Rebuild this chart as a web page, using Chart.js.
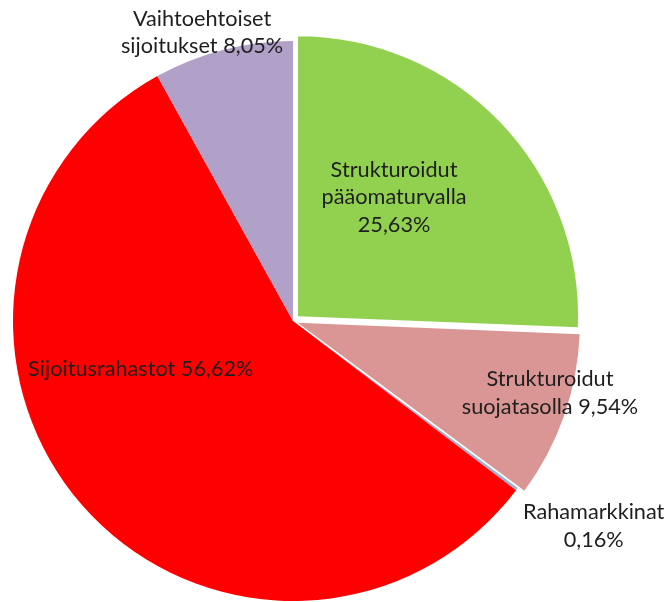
<!DOCTYPE html>
<html><head><meta charset="utf-8">
<script src="https://cdn.jsdelivr.net/npm/chart.js@4.4.1/dist/chart.umd.min.js"></script>
<style>html,body{margin:0;padding:0;background:#fff;}#wrap{width:669px;height:602px;}</style>
</head><body><div id="wrap"><canvas id="c" width="669" height="602"></canvas></div>
<script>
const categories = ["Strukturoidut pääomaturvalla", "Strukturoidut suojatasolla", "Rahamarkkinat", "Sijoitusrahastot", "Vaihtoehtoiset sijoitukset"];
const shares = [25.63, 9.54, 0.16, 56.62, 8.05];
const labelLines = [
  ["Strukturoidut", "pääomaturvalla", "25,63%"],
  ["Strukturoidut", "suojatasolla 9,54%"],
  ["Rahamarkkinat", "0,16%"],
  ["Sijoitusrahastot 56,62%"],
  ["Vaihtoehtoiset", "sijoitukset 8,05%"]
];
const colors = ["#92D050", "#DA9694", "#95B3D7", "#FF0000", "#B1A0C7"];
const explode = [28, 20, 0, 0, 0];
// label placement: angle (deg clockwise from top) and radius fraction from chart centre
const labelPos = [[39.2, 0.571], [105.6, 0.953], [124.3, 1.30], [252.5, 0.57], [342.5, 1.08]];

const labelPlugin = {
  id: 'labels',
  afterDatasetsDraw(chart) {
    const ctx = chart.ctx;
    const meta = chart.getDatasetMeta(0);
    const arc0 = meta.data[0];
    const cx = arc0.x, cy = arc0.y, R = arc0.outerRadius;
    ctx.save();
    ctx.font = '21.7px Lato';
    ctx.fillStyle = '#1e1e1e';
    ctx.textAlign = 'center';
    ctx.textBaseline = 'middle';
    const lh = 27.5;
    labelLines.forEach((lines, i) => {
      const a = labelPos[i][0] * Math.PI / 180;
      const x = cx + Math.sin(a) * R * labelPos[i][1];
      const y = cy - Math.cos(a) * R * labelPos[i][1];
      const y0 = y - (lines.length - 1) * lh / 2;
      lines.forEach((t, j) => ctx.fillText(t, x, y0 + j * lh));
    });
    ctx.restore();
  }
};

new Chart(document.getElementById('c'), {
  type: 'pie',
  data: {
    labels: categories,
    datasets: [{
      data: shares,
      backgroundColor: colors,
      borderWidth: 0,
      offset: explode
    }]
  },
  options: {
    responsive: false,
    animation: false,
    radius: 280,
    layout: { padding: { left: 0, right: 83, top: 40, bottom: 0 } },
    plugins: { legend: { display: false }, tooltip: { enabled: false } }
  },
  plugins: [labelPlugin]
});
</script>
</body></html>
